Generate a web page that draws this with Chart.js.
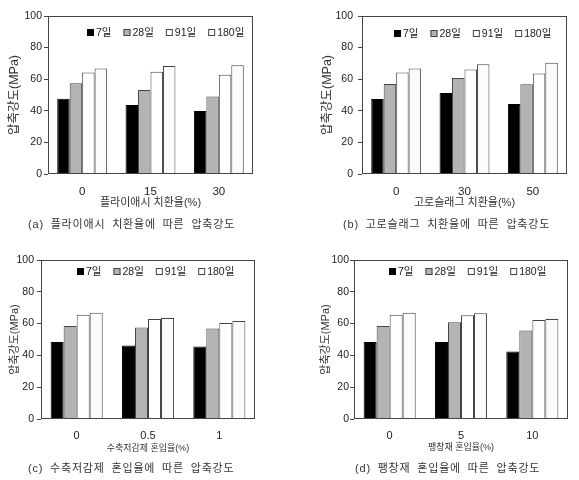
<!DOCTYPE html>
<html>
<head>
<meta charset="utf-8">
<script src="https://cdn.jsdelivr.net/npm/chart.js@4.4.1/dist/chart.umd.min.js"></script>
<style>
  body {
    margin: 0;
    background: #fff;
    width: 579px;
    height: 480px;
    position: relative;
    overflow: hidden;
    font-family: 'Liberation Sans', Arial, 'Noto Sans CJK KR', sans-serif;
  }
  canvas { position: absolute; }
  .cap {
    position: absolute;
    font-size: 11px;
    line-height: 14px;
    color: #333;
    letter-spacing: 0.8px;
    word-spacing: 3px;
    white-space: nowrap;
  }
</style>
</head>
<body>
<canvas id="chartA" style="left:0;top:0"></canvas>
<canvas id="chartB" style="left:290px;top:0"></canvas>
<canvas id="chartC" style="left:0;top:240px"></canvas>
<canvas id="chartD" style="left:290px;top:240px"></canvas>
<div class="cap" style="left:28px;top:217px">(a) 플라이애시 치환율에 따른 압축강도</div>
<div class="cap" style="left:343px;top:217px">(b) 고로슬래그 치환율에 따른 압축강도</div>
<div class="cap" style="left:28px;top:461px">(c) 수축저감제 혼입율에 따른 압축강도</div>
<div class="cap" style="left:355px;top:461px">(d) 팽창재 혼입율에 따른 압축강도</div>
<script>
// 재령 (범례)
const ageLabels = ['7일', '28일', '91일', '180일'];
const yTicks = [0, 20, 40, 60, 80, 100];

// (a) 플라이애시 치환율
const flyAshRates = ['0', '15', '30'];
const flyAsh7 = [47.7, 43.7, 39.9];
const flyAsh28 = [57.5, 53.2, 49.0];
const flyAsh91 = [64.2, 64.7, 62.8];
const flyAsh180 = [66.8, 68.3, 68.9];

// (b) 고로슬래그 치환율
const slagRates = ['0', '30', '50'];
const slag7 = [47.5, 51.3, 44.3];
const slag28 = [57.0, 60.8, 56.8];
const slag91 = [64.2, 66.1, 63.6];
const slag180 = [66.8, 69.5, 70.4];

// (c) 수축저감제 혼입율
const sraRates = ['0', '0.5', '1'];
const sra7 = [48.5, 46.2, 45.6];
const sra28 = [58.5, 57.5, 56.9];
const sra91 = [65.6, 62.9, 60.4];
const sra180 = [66.9, 63.5, 61.7];

// (d) 팽창재 혼입율
const expRates = ['0', '5', '10'];
const exp7 = [48.5, 48.5, 42.5];
const exp28 = [58.5, 60.8, 55.6];
const exp91 = [65.6, 65.2, 62.3];
const exp180 = [66.9, 66.5, 62.9];

const fontFamily = "'Liberation Sans', Arial, 'Noto Sans CJK KR', sans-serif";
const barFills = ['#000000', '#b3b3b3', '#ffffff', '#fbfbfb'];
const barBorders = ['#000000', '#444444', '#444444', '#444444'];

// 플롯 영역 테두리
const framePlugin = {
    id: 'frame',
    afterDatasetsDraw(chart) {
        const { ctx, chartArea: a } = chart;
        ctx.save();
        ctx.strokeStyle = '#444';
        ctx.lineWidth = 1;
        ctx.strokeRect(a.left + 0.5, a.top + 0.5, a.right - a.left - 1, a.bottom - a.top - 1);
        ctx.restore();
    }
};

// 플롯 안쪽 상단 범례
const innerLegend = {
    id: 'innerLegend',
    afterDraw(chart, args, opts) {
        const { ctx, chartArea: a } = chart;
        const sets = chart.data.datasets;
        ctx.save();
        ctx.font = opts.size + 'px ' + fontFamily;
        const box = 7, gap = 2;
        const widths = sets.map(d => ctx.measureText(d.label).width);
        const total = widths.reduce((s, w) => s + box + gap + w, 0) + opts.space * (sets.length - 1);
        let x = Math.round((a.left + a.right) / 2 + opts.dx - total / 2);
        const y = Math.round(a.top + opts.dy);
        ctx.textBaseline = 'middle';
        sets.forEach((d, i) => {
            ctx.fillStyle = d.backgroundColor;
            ctx.fillRect(x, y - 4, box, box);
            ctx.strokeStyle = d.borderColor;
            ctx.lineWidth = 1;
            ctx.strokeRect(x + 0.5, y - 3.5, box - 1, box - 1);
            ctx.fillStyle = '#222';
            ctx.fillText(d.label, x + box + gap, y + 0.5);
            x += box + gap + widths[i] + opts.space;
        });
        ctx.restore();
    }
};

function makeChart(id, cats, series, p) {
    const canvas = document.getElementById(id);
    canvas.width = p.w;
    canvas.height = p.h;
    canvas.style.width = p.w + 'px';
    canvas.style.height = p.h + 'px';

    const datasets = series.map((vals, i) => ({
        label: ageLabels[i],
        data: vals,
        backgroundColor: barFills[i],
        borderColor: barBorders[i],
        borderWidth: 1,
        categoryPercentage: 0.73,
        barPercentage: 1
    }));

    const xH = 40;
    const yTitleLh = p.yTitleSize * 1.2;
    const xTitleLh = p.xTitleSize * 1.2;

    return new Chart(canvas.getContext('2d'), {
        type: 'bar',
        data: { labels: cats, datasets: datasets },
        options: {
            responsive: false,
            animation: false,
            devicePixelRatio: 1,
            layout: {
                padding: { left: 0, top: p.area.t, right: p.w - p.area.r, bottom: p.h - p.area.b - xH }
            },
            plugins: {
                legend: { display: false },
                tooltip: { enabled: false },
                innerLegend: { size: 10.5, space: 12, dx: p.legDx, dy: p.legDy }
            },
            scales: {
                x: {
                    afterFit: s => { s.height = xH; },
                    grid: { display: false, drawTicks: false },
                    border: { display: false },
                    ticks: { padding: p.xPad, color: '#222', font: { size: p.xTickSize, family: fontFamily } },
                    title: {
                        display: true,
                        text: p.xTitle,
                        color: '#333',
                        font: { size: p.xTitleSize, family: fontFamily },
                        padding: { top: 0, bottom: p.area.b + xH - p.xTitleY - xTitleLh / 2 }
                    }
                },
                y: {
                    min: 0,
                    max: 100,
                    afterBuildTicks: s => { s.ticks = yTicks.map(v => ({ value: v })); },
                    afterFit: s => { s.width = p.area.l; },
                    grid: { display: true, drawOnChartArea: false, drawTicks: true, tickLength: 4, color: '#444' },
                    border: { display: false },
                    ticks: { padding: p.yPad, color: '#222', font: { size: p.yTickSize, family: fontFamily } },
                    title: {
                        display: true,
                        text: '압축강도(MPa)',
                        color: '#333',
                        font: { size: p.yTitleSize, family: fontFamily },
                        padding: { top: p.yTitleX - yTitleLh / 2, bottom: 0 }
                    }
                }
            }
        },
        plugins: [framePlugin, innerLegend]
    });
}

makeChart('chartA', flyAshRates, [flyAsh7, flyAsh28, flyAsh91, flyAsh180], {
    w: 290, h: 240, area: { l: 48, t: 16, r: 253, b: 174 },
    xTitle: '플라이애시 치환율(%)', xTitleY: 203, xTitleSize: 11, xTickSize: 11.5, xPad: 11,
    yTitleX: 15, yTitleSize: 12.5, yTickSize: 10.5, yPad: 2,
    legDx: 15, legDy: 17
});
makeChart('chartB', slagRates, [slag7, slag28, slag91, slag180], {
    w: 289, h: 240, area: { l: 72, t: 16, r: 277, b: 174 },
    xTitle: '고로슬래그 치환율(%)', xTitleY: 203, xTitleSize: 11, xTickSize: 11.5, xPad: 11,
    yTitleX: 38, yTitleSize: 12.5, yTickSize: 10.5, yPad: 5,
    legDx: 8, legDy: 18
});
makeChart('chartC', sraRates, [sra7, sra28, sra91, sra180], {
    w: 290, h: 240, area: { l: 41, t: 20, r: 255, b: 179 },
    xTitle: '수축저감제 혼입율(%)', xTitleY: 209, xTitleSize: 9, xTickSize: 11, xPad: 10.5,
    yTitleX: 15, yTitleSize: 11, yTickSize: 10.5, yPad: 3,
    legDx: 8, legDy: 12
});
makeChart('chartD', expRates, [exp7, exp28, exp91, exp180], {
    w: 289, h: 240, area: { l: 64, t: 20, r: 278, b: 179 },
    xTitle: '팽창재 혼입율(%)', xTitleY: 208, xTitleSize: 9, xTickSize: 11, xPad: 10.5,
    yTitleX: 36, yTitleSize: 11, yTickSize: 10.5, yPad: 1,
    legDx: 7, legDy: 12
});
</script>
</body>
</html>
